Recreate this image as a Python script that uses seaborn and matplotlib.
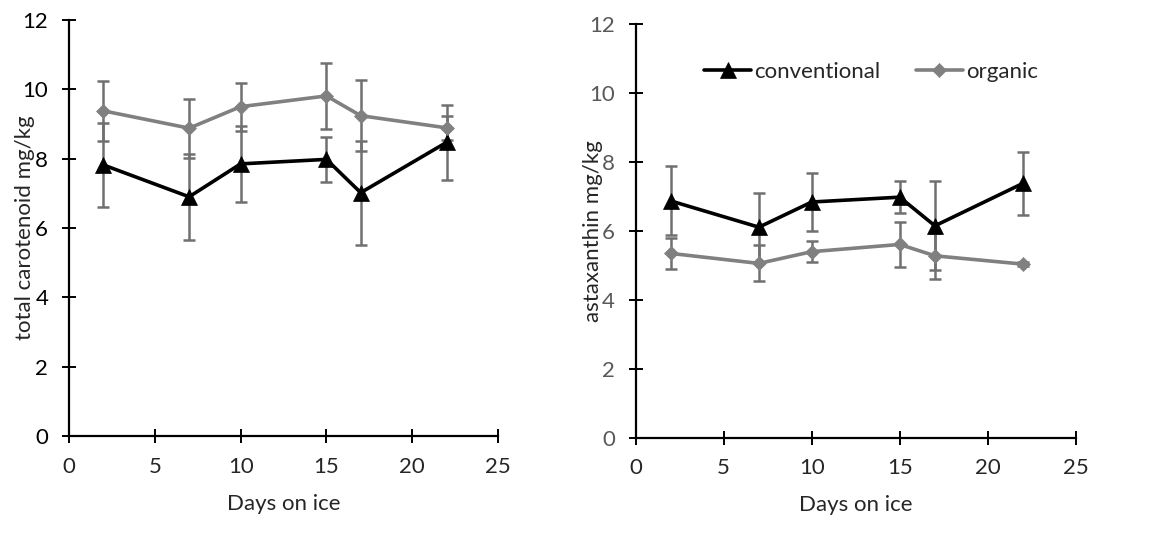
import numpy as np
import pandas as pd
import matplotlib
matplotlib.use("Agg")
import matplotlib.pyplot as plt
import seaborn as sns

days = [2, 7, 10, 15, 17, 22]
groups = ["conventional", "organic"]

# total carotenoid (mg/kg)
carot_conv = [7.82, 6.90, 7.85, 7.98, 7.02, 8.47]
carot_conv_err = [1.20, 1.24, 1.10, 0.65, 1.50, 1.08]
carot_org = [9.38, 8.88, 9.50, 9.81, 9.24, 8.89]
carot_org_err = [0.86, 0.85, 0.69, 0.96, 1.02, 0.34]

# astaxanthin (mg/kg)
asta_conv = [6.86, 6.10, 6.83, 6.97, 6.14, 7.37]
asta_conv_err = [1.00, 1.00, 0.83, 0.46, 1.29, 0.91]
asta_org = [5.34, 5.05, 5.39, 5.60, 5.27, 5.03]
asta_org_err = [0.44, 0.52, 0.31, 0.66, 0.66, 0.05]

y_ticks = [0, 2, 4, 6, 8, 10, 12]
x_ticks = [0, 5, 10, 15, 20, 25]

sns.set_style("white")
plt.rcParams["font.family"] = ["Lato", "DejaVu Sans"]
plt.rcParams["font.size"] = 16

ERR_GRAY = "#707070"
palette = {"conventional": "black", "organic": "#808080"}
markers = {"conventional": "^", "organic": "D"}


def build_df(conv, conv_err, org, org_err):
    rows = []
    for g, vals, errs in [("conventional", conv, conv_err), ("organic", org, org_err)]:
        for d, v, e in zip(days, vals, errs):
            rows.append({"day": d, "value": v, "err": e, "group": g})
    return pd.DataFrame(rows)


def draw_panel(ax, df, ylabel, ytick_color, ylabel_x):
    for g in groups:
        sub = df[df["group"] == g]
        ax.errorbar(sub["day"], sub["value"], yerr=sub["err"], fmt="none",
                    ecolor=ERR_GRAY, elinewidth=1.8, capsize=4.5, capthick=1.8,
                    zorder=1)
    sns.lineplot(data=df, x="day", y="value", hue="group", style="group",
                 palette=palette, markers=markers, dashes=False, linewidth=2.6,
                 markersize=9, markeredgewidth=0.5, ax=ax, zorder=3,
                 legend=True)
    for line in ax.lines:
        if line.get_marker() == "^":
            line.set_markersize(11)
            line.set_markeredgecolor("black")
        elif line.get_marker() == "D":
            line.set_markersize(7.5)
            line.set_markeredgecolor("#808080")
    ax.set_xlim(0, 25)
    ax.set_ylim(0, 12)
    ax.set_xticks(x_ticks)
    ax.set_yticks(y_ticks)
    ax.set_xlabel("Days on ice", labelpad=12)
    ax.set_ylabel(ylabel)
    ax.yaxis.set_label_coords(ylabel_x, 0.5)
    sns.despine(ax=ax)
    for s in ["left", "bottom"]:
        ax.spines[s].set_color("black")
        ax.spines[s].set_linewidth(1.6)
    ax.tick_params(axis="both", direction="inout", length=10, width=1.4,
                   color="black", bottom=True, left=True)
    ax.tick_params(axis="x", pad=10)
    ax.tick_params(axis="y", pad=10, labelcolor=ytick_color)


fig = plt.figure(figsize=(11.52, 5.35), dpi=100)
ax1 = fig.add_axes([0.0599, 0.185, 0.3724, 0.7776])
ax2 = fig.add_axes([0.5518, 0.182, 0.382, 0.7738])

df1 = build_df(carot_conv, carot_conv_err, carot_org, carot_org_err)
df2 = build_df(asta_conv, asta_conv_err, asta_org, asta_org_err)

draw_panel(ax1, df1, "total carotenoid mg/kg", "black", -0.079)
draw_panel(ax2, df2, "astaxanthin mg/kg", "#595959", -0.074)

ax1.get_legend().remove()
handles, labels = ax2.get_legend_handles_labels()
ax2.get_legend().remove()
ax2.legend(handles, labels, ncol=2, frameon=False, loc="upper center",
           bbox_to_anchor=(0.535, 0.955), handlelength=2.1, handletextpad=0.15,
           columnspacing=1.6)

fig.savefig("out.png", dpi=100)
